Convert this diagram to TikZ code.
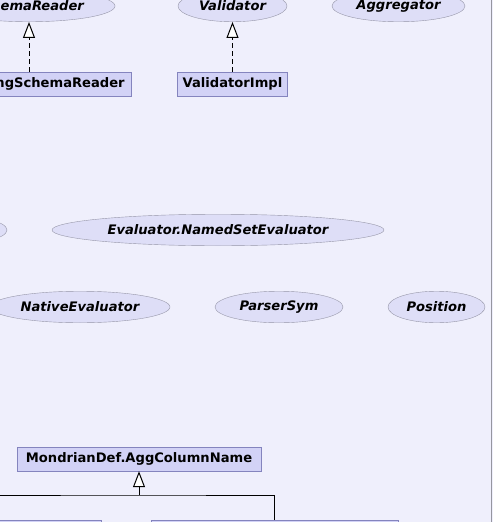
\documentclass[tikz,border=0pt]{standalone}
\usepackage{fontspec}
\setmainfont{DejaVu Sans}[BoldFont={DejaVu Sans Bold},ItalicFont={DejaVu Sans Oblique},BoldItalicFont={DejaVu Sans Bold Oblique}]
\usetikzlibrary{shapes.geometric,arrows.meta}
\definecolor{graphbg}{RGB}{239,239,252}
\definecolor{ifacefill}{RGB}{222,222,247}
\definecolor{ifaceline}{RGB}{150,150,168}
\definecolor{clsfill}{RGB}{210,210,246}
\definecolor{clsline}{RGB}{132,132,190}
\definecolor{framegray}{RGB}{150,150,160}

\begin{document}
\begin{tikzpicture}[x=1pt,y=-1pt,
    iface/.style={ellipse,draw=ifaceline,fill=ifacefill,inner sep=0pt,minimum height=31.5pt,
        font=\bfseries\itshape\fontsize{13.1}{15}\selectfont},
    cls/.style={rectangle,draw=clsline,fill=clsfill,inner sep=0pt,minimum height=24pt,
        font=\bfseries\fontsize{13.1}{15}\selectfont},
    inherit/.style={-{Triangle[length=16pt,width=12pt,fill=white]},line width=1pt},
    realize/.style={inherit,dash pattern=on 5pt off 3pt}]
    \useasboundingbox (0,0) rectangle (493,522);
    \clip (0,0) rectangle (493,522);
    \fill[graphbg] (0,0) rectangle (493,522);
    \draw[framegray,line width=1.2pt] (491.8,0) -- (491.8,522);

    % interfaces
    \node[iface,minimum width=172pt] (schemareader) at (29,6) {SchemaReader};
    \node[iface,minimum width=109pt] (validator) at (232.5,6) {Validator};
    \node[iface,minimum width=133pt] (aggregator) at (398.5,6) {Aggregator};
    \node[iface,minimum width=134pt] (evaluator) at (-60,230) {};
    \node[iface,minimum width=332pt] (namedseteval) at (218,230) {Evaluator.NamedSetEvaluator};
    \node[iface,minimum width=180pt] (nativeeval) at (80,307) {NativeEvaluator};
    \node[iface,minimum width=128pt] (parsersym) at (279,307) {ParserSym};
    \node[iface,minimum width=97pt] (position) at (436.5,307) {Position};

    % classes
    \node[cls,minimum width=204pt] (delegreader) at (29,84) {DelegatingSchemaReader};
    \node[cls,minimum width=110pt] (validatorimpl) at (232.5,84) {ValidatorImpl};
    \node[cls,minimum width=244pt] (aggcolname) at (139,459) {MondrianDef.AggColumnName};
    \node[cls,minimum width=240pt] (aggcolleft) at (-19,532) {};
    \node[cls,minimum width=247pt] (aggcolright) at (274.5,532) {};

    \draw[realize] (delegreader) -- (schemareader);
    \draw[realize] (validatorimpl) -- (validator);
    \coordinate (aggjoin) at (139,495);
    \draw[inherit] (aggjoin) -- (aggcolname);
    \draw[line width=1pt] (aggcolleft.north) |- (aggjoin) -| (aggcolright.north);
\end{tikzpicture}
\end{document}
